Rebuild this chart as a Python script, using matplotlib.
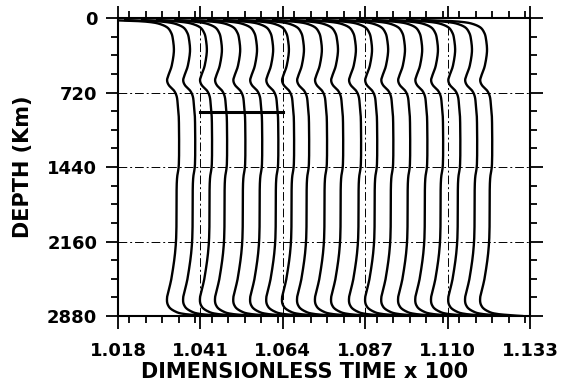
import numpy as np
import matplotlib
matplotlib.use("Agg")
import matplotlib.pyplot as plt
from matplotlib.ticker import MultipleLocator, FixedLocator

# ---- data ----
x_ticks = [1.018, 1.041, 1.064, 1.087, 1.110, 1.133]
x_tick_labels = ["1.018", "1.041", "1.064", "1.087", "1.110", "1.133"]
y_ticks = [0, 720, 1440, 2160, 2880]
y_tick_labels = ["0", "720", "1440", "2160", "2880"]

# reference time of each profile (value at ~1000 km depth)
base_times = [1.0350, 1.0395, 1.0442, 1.0484, 1.0535, 1.0582, 1.0627, 1.0671,
              1.0713, 1.0763, 1.0808, 1.0858, 1.0903, 1.0948, 1.0995, 1.1043,
              1.1087, 1.1135, 1.1182, 1.1224]

# common profile shape: depth (km) and time offset from the reference time
shape_depth = [20, 28, 38, 55, 90, 140, 200, 320, 460, 540, 600, 650, 700,
               760, 850, 1000, 1400, 1600, 2150, 2500, 2700, 2790, 2840,
               2860, 2872, 2880]
shape_offset = [-0.0195, -0.0126, -0.0084, -0.0056, -0.0033, -0.0022, -0.0017,
                -0.0014, -0.0020, -0.0028, -0.0033, -0.0028, -0.0014, -0.0006,
                -0.0003, 0.0, 0.0, -0.0006, -0.0008, -0.0020, -0.0033, -0.0028,
                -0.0008, 0.0014, 0.0050, 0.0084]

scale_bar_depth = 910
scale_bar_x = [1.041, 1.064]


def smooth(px, py, n=20):
    """Catmull-Rom rendering through the read points."""
    px = np.asarray(px, float); py = np.asarray(py, float)
    P = np.column_stack([px, py])
    P = np.vstack([P[0], P, P[-1]])
    out = []
    for i in range(1, len(P) - 2):
        p0, p1, p2, p3 = P[i - 1], P[i], P[i + 1], P[i + 2]
        t = np.linspace(0, 1, n, endpoint=False)[:, None]
        seg = 0.5 * ((2 * p1) + (-p0 + p2) * t + (2 * p0 - 5 * p1 + 4 * p2 - p3) * t ** 2
                     + (-p0 + 3 * p1 - 3 * p2 + p3) * t ** 3)
        out.append(seg)
    out.append(P[-2][None, :])
    out = np.vstack(out)
    return out[:, 0], out[:, 1]


plt.rcParams['font.family'] = ['DejaVu Sans']
plt.rcParams['font.weight'] = 'bold'

fig = plt.figure(figsize=(5.78, 3.89), dpi=100)
ax = fig.add_axes([118 / 578, 1 - 316 / 389, 412 / 578, 298 / 389])

for b in base_times:
    xs = [b + o for o in shape_offset]
    sx, sy = smooth(xs, shape_depth)
    ax.plot(sx, sy, color='black', lw=1.7, solid_joinstyle='round')

# scale bar
ax.plot(scale_bar_x, [scale_bar_depth, scale_bar_depth], color='black', lw=2.2)

# dash-dot reference lines
dd = (0, (9, 3, 2, 3))
for yv in y_ticks[1:-1]:
    ax.axhline(yv, color='black', lw=0.7, ls=dd, zorder=0)
for xv in x_ticks[1:-1]:
    ax.axvline(xv, color='black', lw=0.7, ls=dd, zorder=0)

ax.set_xlim(x_ticks[0], x_ticks[-1])
ax.set_ylim(y_ticks[-1], y_ticks[0])
ax.xaxis.set_major_locator(FixedLocator(x_ticks))
ax.set_xticklabels(x_tick_labels)
ax.xaxis.set_minor_locator(MultipleLocator((x_ticks[1] - x_ticks[0]) / 5))
ax.yaxis.set_major_locator(FixedLocator(y_ticks))
ax.set_yticklabels(y_tick_labels)
ax.yaxis.set_minor_locator(MultipleLocator(180))

for s in ax.spines.values():
    s.set_linewidth(1.5)

ax.tick_params(which='both', direction='out', top=True, right=True,
               labeltop=False, labelright=False, width=1.3)
ax.tick_params(which='major', length=9)
ax.tick_params(which='minor', length=5)
ax.tick_params(axis='x', which='major', labelsize=13, pad=10)
ax.tick_params(axis='y', which='major', labelsize=13, pad=6)
for lab in ax.get_xticklabels() + ax.get_yticklabels():
    lab.set_fontweight('bold')

ax.set_xlabel('DIMENSIONLESS TIME x 100', fontsize=15, fontweight='bold')
ax.xaxis.set_label_coords(0.452, -0.155)
ax.set_ylabel('DEPTH (Km)', fontsize=15, fontweight='bold', labelpad=10)

fig.savefig('out.png', dpi=100)
